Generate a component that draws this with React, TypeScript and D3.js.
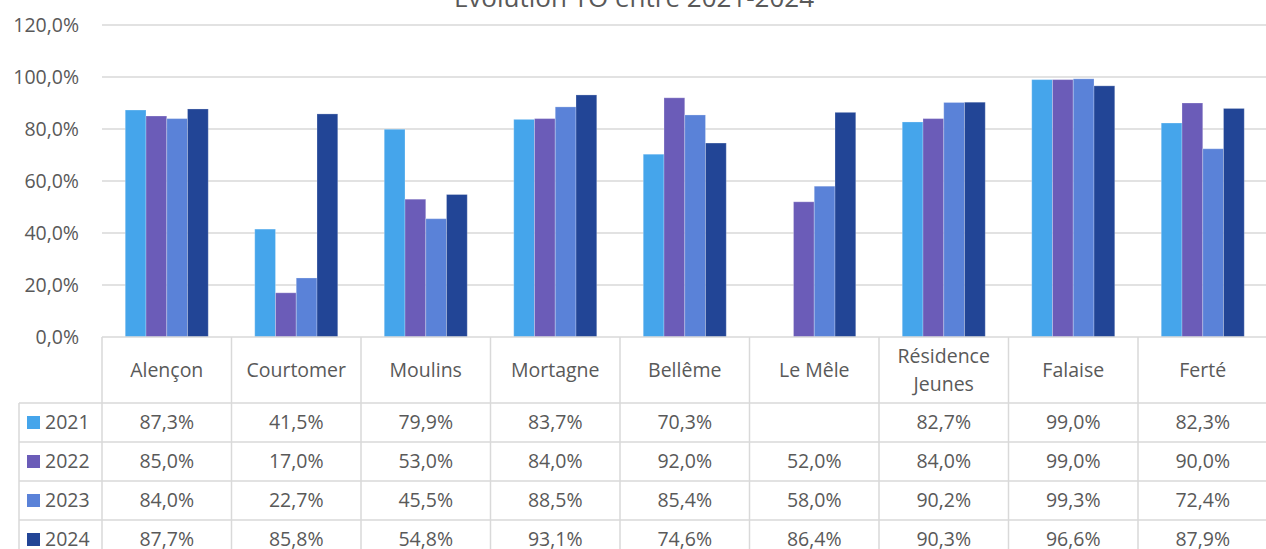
import React from "react";
import * as d3 from "d3";

const categories = ["Alençon", "Courtomer", "Moulins", "Mortagne", "Bellême", "Le Mêle", "Résidence Jeunes", "Falaise", "Ferté"];
const seriesNames = ["2021", "2022", "2023", "2024"];
const values2021: (number | null)[] = [87.3, 41.5, 79.9, 83.7, 70.3, null, 82.7, 99.0, 82.3];
const values2022: (number | null)[] = [85.0, 17.0, 53.0, 84.0, 92.0, 52.0, 84.0, 99.0, 90.0];
const values2023: (number | null)[] = [84.0, 22.7, 45.5, 88.5, 85.4, 58.0, 90.2, 99.3, 72.4];
const values2024: (number | null)[] = [87.7, 85.8, 54.8, 93.1, 74.6, 86.4, 90.3, 96.6, 87.9];
const yTicks = [0, 20, 40, 60, 80, 100, 120];
const title = "Evolution TO entre 2021-2024";

const seriesValues = [values2021, values2022, values2023, values2024];
const colors = ["#45A5EB", "#6B5CB8", "#5A82D8", "#224596"];

const W = 1266, H = 549;
const FONT = "'Open Sans', 'Noto Sans', sans-serif";
const TEXT = "#595959";
const GRID = "#D9D9D9";
const FS = 19.5;

const fmt = (v: number | null) => (v == null ? "" : v.toFixed(1).replace(".", ",") + "%");

export default function App() {
  const left = 102;
  const catW = 129.5;
  const x = d3.scaleBand<string>().domain(categories).range([left, left + catW * categories.length]).paddingInner(0).paddingOuter(0);
  const xs = d3.scaleBand<string>().domain(seriesNames).range([0, x.bandwidth()]).paddingInner(0).paddingOuter(1.12);
  const y = d3.scaleLinear().domain([0, 120]).range([337, 25]);

  const headerTop = y(0);
  const headerBottom = 403;
  const rowH = 39;
  const legendLeft = 19;
  const right = left + catW * categories.length;

  return (
    <div style={{ position: "absolute", left: 0, top: 0, width: W, height: H, overflow: "hidden", background: "#fff" }}>
      <svg width={W} height={H} style={{ display: "block" }}>
        <text x={634} y={7} textAnchor="middle" fontFamily={FONT} fontSize={26} fill={TEXT}>{title}</text>
        {yTicks.map((t) => (
          <g key={t}>
            {t > 0 && <line x1={left} x2={W} y1={y(t)} y2={y(t)} stroke={GRID} strokeWidth={1.5} />}
            <text x={79} y={y(t)} dy="0.35em" textAnchor="end" fontFamily={FONT} fontSize={FS} fill={TEXT}>{fmt(t)}</text>
          </g>
        ))}
        {categories.map((c, ci) => (
          <g key={c} transform={`translate(${x(c)},0)`}>
            {seriesNames.map((s, si) => {
              const v = seriesValues[si][ci];
              if (v == null) return null;
              return (
                <rect key={s} x={xs(s)} y={y(v)} width={xs.bandwidth()} height={y(0) - y(v)} fill={colors[si]} stroke="#ffffff" strokeOpacity={0.25} strokeWidth={1} />
              );
            })}
          </g>
        ))}
        <g stroke={GRID} strokeWidth={1.5} fill="none">
          <line x1={left} x2={right} y1={headerTop} y2={headerTop} />
          {[0, 1, 2, 3].map((i) => (
            <line key={i} x1={legendLeft} x2={right} y1={headerBottom + i * rowH} y2={headerBottom + i * rowH} />
          ))}
          <line x1={left} x2={left} y1={headerTop} y2={H} />
          <line x1={legendLeft} x2={legendLeft} y1={headerBottom} y2={H} />
          {categories.map((c) => (
            <line key={c} x1={(x(c) as number) + catW} x2={(x(c) as number) + catW} y1={headerTop} y2={H} />
          ))}
        </g>
        {categories.map((c) => {
          const cx = (x(c) as number) + catW / 2;
          const words = c === "Résidence Jeunes" ? ["Résidence", "Jeunes"] : [c];
          const cy = (headerTop + headerBottom) / 2;
          return (
            <text key={c} textAnchor="middle" fontFamily={FONT} fontSize={FS} fill={TEXT}>
              {words.map((w, wi) => (
                <tspan key={wi} x={cx} y={cy + (wi - (words.length - 1) / 2) * 28} dy="0.35em">{w}</tspan>
              ))}
            </text>
          );
        })}
        {seriesNames.map((s, si) => {
          const cy = headerBottom + si * rowH + rowH / 2;
          return (
            <g key={s}>
              <rect x={27} y={cy - 6.5} width={13} height={13} fill={colors[si]} />
              <text x={45} y={cy} dy="0.35em" fontFamily={FONT} fontSize={FS} fill={TEXT}>{s}</text>
              {categories.map((c, ci) => (
                <text key={c} x={(x(c) as number) + catW / 2} y={cy} dy="0.35em" textAnchor="middle" fontFamily={FONT} fontSize={FS} fill={TEXT}>
                  {fmt(seriesValues[si][ci])}
                </text>
              ))}
            </g>
          );
        })}
      </svg>
    </div>
  );
}
